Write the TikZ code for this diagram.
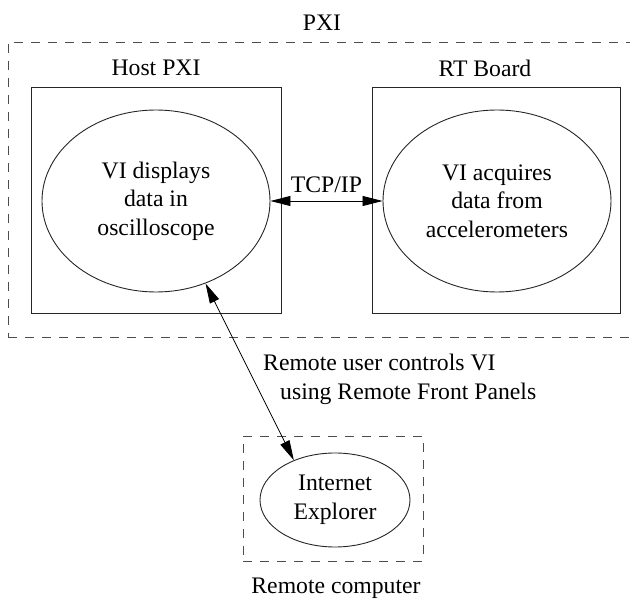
\documentclass[tikz,border=0pt]{standalone}
\usepackage{fontspec}
\setmainfont{Liberation Serif}
\usetikzlibrary{shapes.geometric,arrows.meta}

\tikzset{
  lbl/.style={inner sep=0pt, font=\fontsize{23.7}{28.5}\selectfont},
  groupbox/.style={draw=black!70, line width=0.9pt, dash pattern=on 9pt off 8pt, inner sep=0pt},
  unitbox/.style={draw=black!85, line width=0.9pt, inner sep=0pt},
  task/.style={draw=black!85, line width=0.9pt, ellipse, inner sep=0pt, align=center,
               font=\fontsize{23.7}{28.5}\selectfont},
  link/.style={line width=0.8pt, {Triangle[length=20pt,width=10pt]}-{Triangle[length=20pt,width=10pt]}}
}

\begin{document}
\begin{tikzpicture}[x=1pt,y=-1pt]
  \useasboundingbox (0,0) rectangle (630,601);

  % PXI chassis
  \node[groupbox, minimum width=625pt, minimum height=295pt] (pxi) at (320.5,189.5) {};
  \node[lbl] (pxilbl) at (322,23) {PXI};

  % host and real-time target
  \node[unitbox, minimum width=250pt, minimum height=226pt] (host) at (156,200) {};
  \node[lbl] (hostlbl) at (156,68) {Host PXI};
  \node[unitbox, minimum width=248pt, minimum height=226pt] (rt) at (496,200) {};
  \node[lbl] (rtlbl) at (485,68) {RT Board};

  \node[task, minimum width=228pt, minimum height=182pt] (disp) at (156,201)
    {VI displays\\data in\\oscilloscope};
  \node[task, minimum width=228pt, minimum height=182pt] (acq) at (497,201)
    {VI acquires\\data from\\accelerometers};

  % remote computer
  \node[groupbox, minimum width=180pt, minimum height=125pt] (remote) at (333,498.5) {};
  \node[lbl] (remotelbl) at (336,588) {Remote computer};
  \node[task, minimum width=150pt, minimum height=94pt] (ie) at (335,500)
    {Internet\\Explorer};

  % connections
  \draw[link] (disp.east) -- (acq.west) node[lbl, midway, above=8pt] (tcp) {TCP/IP};
  \draw[link] (disp.-59) -- (ie.136);
  \node[lbl, anchor=west] (rfp1) at (263,362) {Remote user controls VI};
  \node[lbl, anchor=west] (rfp2) at (280,394) {using Remote Front Panels};
\end{tikzpicture}
\end{document}
